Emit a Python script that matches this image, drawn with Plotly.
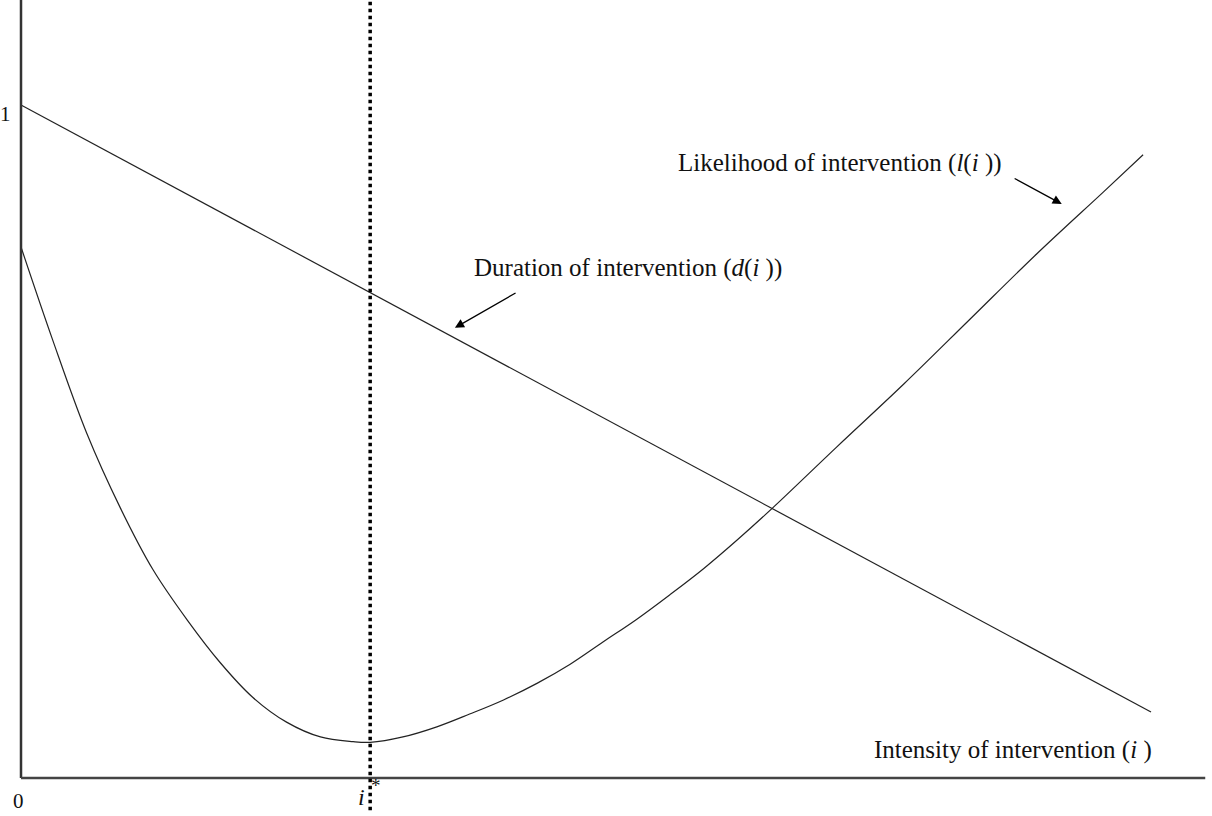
import plotly.graph_objects as go

# intensity of intervention (i), scaled so the curves end near i = 1
duration_i = [0.0, 1.0]
duration_val = [1.0, 0.098]

likelihood_i = [0.0, 0.028, 0.058, 0.088, 0.117, 0.147, 0.176, 0.205, 0.235,
                0.265, 0.294, 0.309, 0.338, 0.368, 0.397, 0.427, 0.457, 0.486,
                0.515, 0.545, 0.574, 0.604, 0.634, 0.665, 0.722, 0.781, 0.840,
                0.899, 0.958, 0.993]
likelihood_val = [0.789, 0.651, 0.513, 0.401, 0.309, 0.235, 0.172, 0.120, 0.083,
                  0.061, 0.054, 0.053, 0.061, 0.076, 0.095, 0.116, 0.141, 0.169,
                  0.202, 0.236, 0.272, 0.311, 0.354, 0.401, 0.492, 0.585, 0.682,
                  0.779, 0.871, 0.926]

i_star = 0.309

serif = "Liberation Serif, Times New Roman, serif"
ink = "#222222"

fig = go.Figure()
fig.add_trace(go.Scatter(x=duration_i, y=duration_val, mode="lines",
                         line=dict(color=ink, width=1.2), hoverinfo="skip"))
fig.add_trace(go.Scatter(x=likelihood_i, y=likelihood_val, mode="lines",
                         line=dict(color=ink, width=1.2, shape="spline", smoothing=1.0),
                         hoverinfo="skip"))

# axes drawn by hand so the dotted line can run below the x axis
fig.add_shape(type="line", x0=0, x1=0, y0=0, y1=1.16,
              line=dict(color="#333333", width=2.5))
fig.add_shape(type="line", x0=0, x1=1.048, y0=0, y1=0,
              line=dict(color="#444444", width=2.5))
fig.add_shape(type="line", x0=i_star, x1=i_star, y0=-0.048, y1=1.16,
              line=dict(color="black", width=3.5, dash="dot"))

font = dict(family=serif, size=25, color="#111111")
small = dict(family=serif, size=21, color="#111111")
anns = [
    dict(x=-0.007, y=0.986, text="1", xanchor="right", font=small),
    dict(x=-0.002, y=-0.034, text="0", xanchor="center", font=small),
    dict(x=i_star - 0.008, y=-0.028, text="<i>i</i>", xanchor="center",
         font=dict(family=serif, size=24, color="#111111")),
    dict(x=i_star + 0.005, y=-0.011, text="*", xanchor="center",
         font=dict(family=serif, size=19, color="#111111")),
    dict(x=1.003, y=0.042, text="Intensity of intervention (<i>i</i> )", xanchor="right", font=font),
    dict(x=0.399, y=0.758, text="Duration of intervention (<i>d</i>(<i>i</i> ))", xanchor="left", font=font),
    dict(x=0.580, y=0.914, text="Likelihood of intervention (<i>l</i>(<i>i</i> ))", xanchor="left", font=font),
]
for a in anns:
    fig.add_annotation(showarrow=False, yanchor="middle", **a)

# pointer arrows
fig.add_annotation(x=0.384, y=0.669, ax=0.439, ay=0.722, xref="x", yref="y",
                   axref="x", ayref="y", text="", showarrow=True,
                   arrowhead=2, arrowsize=1.4, arrowwidth=1.3, arrowcolor="black")
fig.add_annotation(x=0.921, y=0.853, ax=0.878, ay=0.892, xref="x", yref="y",
                   axref="x", ayref="y", text="", showarrow=True,
                   arrowhead=2, arrowsize=1.4, arrowwidth=1.3, arrowcolor="black")

fig.update_xaxes(range=[-21 / 1130, 1191 / 1130], visible=False)
fig.update_yaxes(range=[-38 / 673, 778 / 673], visible=False)
fig.update_layout(width=1212, height=816, margin=dict(l=0, r=0, t=0, b=0),
                  paper_bgcolor="white", plot_bgcolor="white", showlegend=False)

# drop the page's default body margin so the figure sits at the window corner
fig.write_html("out.html", config={"displayModeBar": False},
               post_script="document.body.style.margin='0px';")
